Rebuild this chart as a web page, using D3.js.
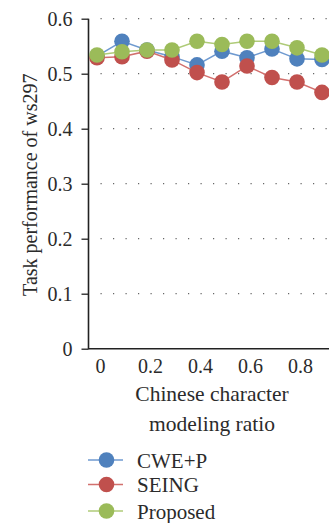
<!DOCTYPE html>
<html><head><meta charset="utf-8">
<script src="https://cdn.jsdelivr.net/npm/d3@7"></script>
<style>html,body{margin:0;padding:0;background:#fff;overflow:hidden}</style>
</head><body>
<svg id="c" width="329" height="523"></svg>
<script>
const xValues = [0, 0.1, 0.2, 0.3, 0.4, 0.5, 0.6, 0.7, 0.8, 0.9];
const cweP = [0.532, 0.559, 0.543, 0.531, 0.516, 0.541, 0.529, 0.545, 0.527, 0.526];
const seing = [0.529, 0.531, 0.541, 0.525, 0.502, 0.485, 0.514, 0.493, 0.485, 0.466];
const proposed = [0.534, 0.540, 0.543, 0.543, 0.559, 0.553, 0.559, 0.559, 0.547, 0.534];
const yTicks = [0, 0.1, 0.2, 0.3, 0.4, 0.5, 0.6];
const xTicks = [0, 0.2, 0.4, 0.6, 0.8];
const seriesNames = ["CWE+P", "SEING", "Proposed"];
const seriesColors = ["#4F81BD", "#C0504D", "#9BBB59"];
const lineColors = ["#6F9AD0", "#D2706E", "#AFCB78"];

const svg = d3.select("#c");
const font = "'Liberation Serif', 'DejaVu Serif', serif";
const textColor = "#2b2b2b";
const x = d3.scaleLinear().domain([0, 0.9]).range([97, 322]);
const y = d3.scaleLinear().domain([0, 0.6]).range([348.7, 18.7]);
const axisX = 88.5;

// grid lines (dotted)
svg.append("g").selectAll("line").data(yTicks.filter(d => d > 0)).join("line")
  .attr("x1", axisX + 12).attr("x2", 329).attr("y1", d => y(d)).attr("y2", d => y(d))
  .attr("stroke", "#666").attr("stroke-width", 1.2).attr("stroke-dasharray", "1.2,11.3");

// y axis
const yAxis = svg.append("g").attr("transform", `translate(${axisX},0)`)
  .call(d3.axisLeft(y).tickValues(yTicks).tickSize(7).tickPadding(9)
    .tickFormat(d => d === 0 ? "0" : d3.format(".1f")(d)));
yAxis.select(".domain").remove();
yAxis.selectAll(".tick line").attr("stroke", "#222").attr("stroke-width", 1.3);
yAxis.selectAll("text").attr("font-family", font).attr("font-size", 20).attr("fill", textColor);
svg.append("line").attr("x1", axisX).attr("x2", axisX).attr("y1", y(0.6)).attr("y2", y(0) + 0.6)
  .attr("stroke", "#222").attr("stroke-width", 1.6);

// x axis
const xAxis = svg.append("g").attr("transform", `translate(0,${y(0)})`)
  .call(d3.axisBottom(x).tickValues(xTicks).tickSize(0).tickPadding(10)
    .tickFormat(d => d === 0 ? "0" : d3.format(".1f")(d)));
xAxis.select(".domain").remove();
xAxis.selectAll("text").attr("font-family", font).attr("font-size", 20).attr("fill", textColor).attr("dx", 3);
svg.append("line").attr("x1", axisX).attr("x2", 329).attr("y1", y(0)).attr("y2", y(0))
  .attr("stroke", "#222").attr("stroke-width", 1.6);

// titles
svg.append("text").attr("transform", `translate(37,${(y(0) + y(0.6)) / 2 + 1}) rotate(-90)`)
  .attr("text-anchor", "middle").attr("font-family", font).attr("font-size", 20).attr("fill", textColor)
  .text("Task performance of ws297");
svg.append("text").attr("x", 212).attr("y", 401).attr("text-anchor", "middle")
  .attr("font-family", font).attr("font-size", 21.5).attr("fill", textColor).text("Chinese character");
svg.append("text").attr("x", 212).attr("y", 431).attr("text-anchor", "middle")
  .attr("font-family", font).attr("font-size", 21.5).attr("fill", textColor).text("modeling ratio");

// series
const allSeries = [cweP, seing, proposed];
const line = d3.line().x((d, i) => x(xValues[i])).y(d => y(d));
allSeries.forEach((vals, k) => {
  const g = svg.append("g");
  g.append("path").datum(vals).attr("d", line).attr("fill", "none")
    .attr("stroke", lineColors[k]).attr("stroke-width", 1.5);
  g.selectAll("circle").data(vals).join("circle")
    .attr("cx", (d, i) => x(xValues[i])).attr("cy", d => y(d)).attr("r", 7.8)
    .attr("fill", seriesColors[k]);
});

// legend
const legY = [460, 484.5, 511];
seriesNames.forEach((name, k) => {
  const g = svg.append("g");
  g.append("line").attr("x1", 88).attr("x2", 123).attr("y1", legY[k]).attr("y2", legY[k])
    .attr("stroke", lineColors[k]).attr("stroke-width", 1.5);
  g.append("circle").attr("cx", 106.5).attr("cy", legY[k]).attr("r", 7.8).attr("fill", seriesColors[k]);
  g.append("text").attr("x", 137).attr("y", legY[k] + 7.5).attr("font-family", font)
    .attr("font-size", 21).attr("fill", textColor).text(name);
});
</script>
</body></html>
